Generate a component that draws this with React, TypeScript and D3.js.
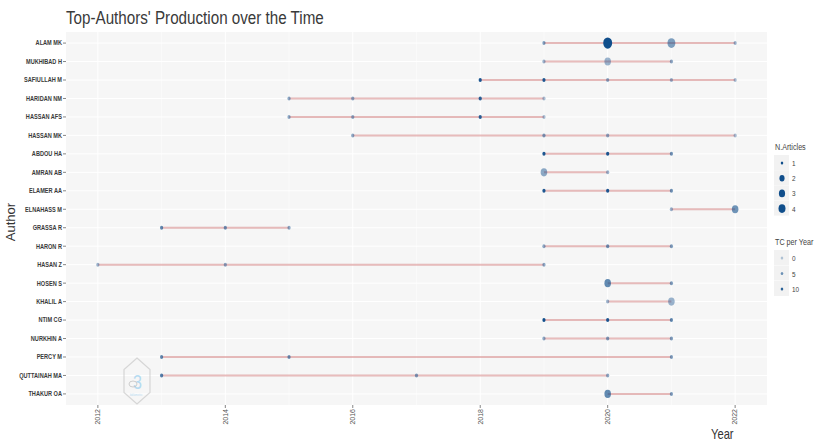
import React from "react";
import * as d3 from "d3";

const authors = [
  "ALAM MK", "MUKHIBAD H", "SAFIULLAH M", "HARIDAN NM", "HASSAN AFS", "HASSAN MK",
  "ABDOU HA", "AMRAN AB", "ELAMER AA", "ELNAHASS M", "GRASSA R", "HARON R",
  "HASAN Z", "HOSEN S", "KHALIL A", "NTIM CG", "NURKHIN A", "PERCY M",
  "QUTTAINAH MA", "THAKUR OA",
];

// [author, year, articles, TC per year]
const records: [string, number, number, number][] = [
  ["ALAM MK", 2019, 1, 4], ["ALAM MK", 2020, 4, 12], ["ALAM MK", 2021, 3, 4], ["ALAM MK", 2022, 1, 2],
  ["MUKHIBAD H", 2019, 1, 2], ["MUKHIBAD H", 2020, 2, 2], ["MUKHIBAD H", 2021, 1, 3],
  ["SAFIULLAH M", 2018, 1, 11], ["SAFIULLAH M", 2019, 1, 11], ["SAFIULLAH M", 2020, 1, 3], ["SAFIULLAH M", 2021, 1, 2], ["SAFIULLAH M", 2022, 1, 1],
  ["HARIDAN NM", 2015, 1, 3], ["HARIDAN NM", 2016, 1, 3], ["HARIDAN NM", 2018, 1, 10], ["HARIDAN NM", 2019, 1, 1],
  ["HASSAN AFS", 2015, 1, 3], ["HASSAN AFS", 2016, 1, 3], ["HASSAN AFS", 2018, 1, 10], ["HASSAN AFS", 2019, 1, 1],
  ["HASSAN MK", 2016, 1, 3], ["HASSAN MK", 2019, 1, 4], ["HASSAN MK", 2020, 1, 3], ["HASSAN MK", 2022, 1, 1],
  ["ABDOU HA", 2019, 1, 11], ["ABDOU HA", 2020, 1, 11], ["ABDOU HA", 2021, 1, 5],
  ["AMRAN AB", 2019, 2, 3], ["AMRAN AB", 2020, 1, 2],
  ["ELAMER AA", 2019, 1, 11], ["ELAMER AA", 2020, 1, 11], ["ELAMER AA", 2021, 1, 5],
  ["ELNAHASS M", 2021, 1, 2], ["ELNAHASS M", 2022, 2, 5],
  ["GRASSA R", 2013, 1, 6], ["GRASSA R", 2014, 1, 5], ["GRASSA R", 2015, 1, 3],
  ["HARON R", 2019, 1, 3], ["HARON R", 2020, 1, 5], ["HARON R", 2021, 1, 4],
  ["HASAN Z", 2012, 1, 2], ["HASAN Z", 2014, 1, 3], ["HASAN Z", 2019, 1, 3],
  ["HOSEN S", 2020, 2, 6], ["HOSEN S", 2021, 1, 4],
  ["KHALIL A", 2020, 1, 2], ["KHALIL A", 2021, 2, 2],
  ["NTIM CG", 2019, 1, 12], ["NTIM CG", 2020, 1, 11], ["NTIM CG", 2021, 1, 6],
  ["NURKHIN A", 2019, 1, 3], ["NURKHIN A", 2020, 1, 4], ["NURKHIN A", 2021, 1, 4],
  ["PERCY M", 2013, 1, 6], ["PERCY M", 2015, 1, 5], ["PERCY M", 2021, 1, 4],
  ["QUTTAINAH MA", 2013, 1, 7], ["QUTTAINAH MA", 2017, 1, 4], ["QUTTAINAH MA", 2020, 1, 3],
  ["THAKUR OA", 2020, 2, 6], ["THAKUR OA", 2021, 1, 4],
];

const xTicks = [2012, 2014, 2016, 2018, 2020, 2022];
const sizeLegend = [1, 2, 3, 4];
const tcLegend = [0, 5, 10];

const SQ = 0.8; // horizontal squash of the reference picture

export default function App() {
  const left = 66, right = 767, top = 32, bottom = 405;
  const x = d3.scaleLinear().domain([2011.5, 2022.5]).range([left, right]);
  const y = d3.scalePoint<string>().domain(authors).range([top, bottom]).padding(0.6);
  const ry = (n: number) => 2.0 + 3.6 * Math.sqrt((n - 1) / 3);
  const alpha = d3.scaleLinear().domain([0, 12]).range([0.3, 1]).clamp(true);
  const blue = "#104E8B";

  const segs = authors.map((a) => {
    const ys = records.filter((r) => r[0] === a).map((r) => r[1]);
    return { a, min: d3.min(ys)!, max: d3.max(ys)! };
  });

  const minorYears = d3.range(2013, 2023, 2);

  const T = (props: any) => {
    const { x: tx, y: ty, rot, children, ...rest } = props;
    return (
      <text transform={`translate(${tx},${ty}) ${rot ? `rotate(${rot})` : ""} scale(${SQ},1)`} {...rest}>
        {children}
      </text>
    );
  };

  const hex = d3.range(6).map((i) => {
    const ang = (Math.PI / 3) * i - Math.PI / 2;
    return [137 + 15 * Math.cos(ang), 381 + 23 * Math.sin(ang)];
  });

  return (
    <div style={{ position: "absolute", left: 0, top: 0 }}>
      <svg width={817} height={441} style={{ display: "block", fontFamily: "Liberation Sans, Arial, sans-serif" }}>
        <rect width={817} height={441} fill="#fff" />
        <T x={66} y={24} fontSize={19} fill="#3a3a3a">Top-Authors' Production over the Time</T>
        <rect x={left} y={top} width={right - left} height={bottom - top} fill="#F6F6F6" />
        {minorYears.map((yr) => (
          <line key={"m" + yr} x1={x(yr)} x2={x(yr)} y1={top} y2={bottom} stroke="#fff" strokeWidth={0.5} />
        ))}
        {xTicks.map((yr) => (
          <line key={"g" + yr} x1={x(yr)} x2={x(yr)} y1={top} y2={bottom} stroke="#fff" strokeWidth={1} />
        ))}
        {authors.map((a) => (
          <line key={"h" + a} x1={left} x2={right} y1={y(a)} y2={y(a)} stroke="#fff" strokeWidth={1} />
        ))}
        <g opacity={0.55}>
          <polygon points={hex.map((p) => p.join(",")).join(" ")} fill="none" stroke="#bdbdbd" strokeWidth={1.2} />
          <T x={133} y={389} fontSize={20} fill="#7fc4ec">3</T>
          <ellipse cx={133} cy={384} rx={4} ry={3} fill="none" stroke="#9a9a9a" strokeWidth={0.8} />
          <T x={130} y={396} fontSize={3} fill="#7fc4ec">bibliometrix</T>
        </g>
        {segs.map((s) => (
          <line key={"s" + s.a} x1={x(s.min)} x2={x(s.max)} y1={y(s.a)} y2={y(s.a)} stroke="#B22222" strokeOpacity={0.3} strokeWidth={2} />
        ))}
        {records.map((r, i) => (
          <ellipse key={"p" + i} cx={x(r[1])} cy={y(r[0])} rx={ry(r[2]) * SQ} ry={ry(r[2])} fill={blue} fillOpacity={alpha(r[3])} />
        ))}
        {authors.map((a) => (
          <g key={"yl" + a}>
            <line x1={63} x2={66} y1={y(a)} y2={y(a)} stroke="#333" strokeWidth={0.6} />
            <T x={62} y={y(a)! + 2.4} fontSize={7} fontWeight="bold" fill="#3a3a3a" textAnchor="end">{a}</T>
          </g>
        ))}
        {xTicks.map((yr) => (
          <g key={"xl" + yr}>
            <line x1={x(yr)} x2={x(yr)} y1={bottom} y2={bottom + 3} stroke="#333" strokeWidth={0.6} />
            <text transform={`translate(${x(yr) + 2.3},${bottom + 4}) rotate(-90)`} fontSize={7} fill="#555" textAnchor="end">{yr}</text>
          </g>
        ))}
        <T x={711} y={439} fontSize={14} fill="#333">Year</T>
        <text transform="translate(15,222) rotate(-90)" fontSize={13} fill="#333" textAnchor="middle">Author</text>

        <T x={775} y={150} fontSize={9} fill="#444">N.Articles</T>
        {sizeLegend.map((n, i) => (
          <g key={"sl" + n}>
            <rect x={774} y={155 + i * 15.2} width={15} height={15} fill="#F2F2F2" />
            <ellipse cx={782} cy={163 + i * 15.2} rx={ry(n) * 0.78 * SQ} ry={ry(n) * 0.78} fill={blue} />
            <T x={792} y={166 + i * 15.2} fontSize={8} fill="#444">{n}</T>
          </g>
        ))}
        <T x={775} y={245} fontSize={9} fill="#444">TC per Year</T>
        {tcLegend.map((v, i) => (
          <g key={"tl" + v}>
            <rect x={774} y={250 + i * 15.5} width={15} height={15} fill="#F2F2F2" />
            <ellipse cx={782} cy={258 + i * 15.5} rx={1.6 * SQ} ry={1.6} fill={blue} fillOpacity={alpha(v)} />
            <T x={792} y={261 + i * 15.5} fontSize={8} fill="#444">{v}</T>
          </g>
        ))}
      </svg>
    </div>
  );
}
